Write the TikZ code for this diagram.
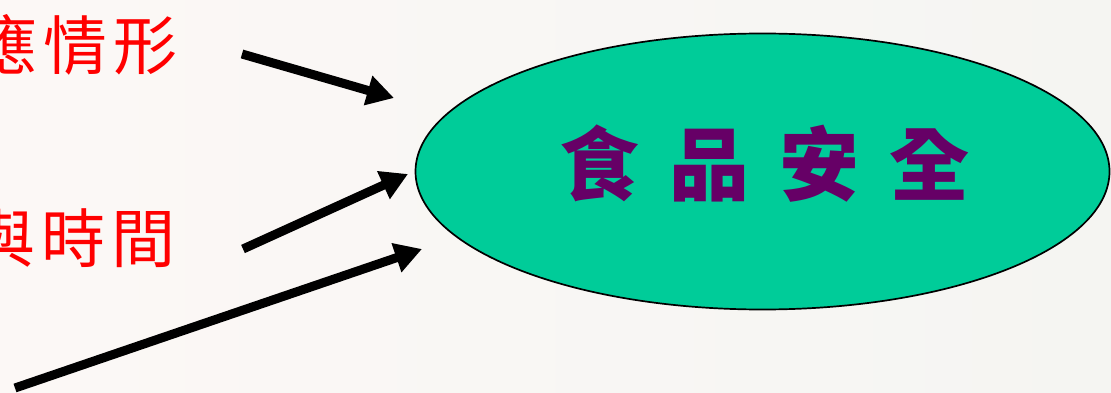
\documentclass[tikz,border=0pt]{standalone}
\usepackage{fontspec}
\newfontfamily\cjk{Noto Sans CJK TC}
\usetikzlibrary{arrows.meta,shapes.geometric}
\definecolor{bgl}{RGB}{252,248,246}
\definecolor{bgr}{RGB}{245,245,242}
\definecolor{oval}{RGB}{0,204,153}
\definecolor{plum}{RGB}{102,0,102}
\tikzset{
  redtxt/.style={text=red, font=\cjk\fontsize{64}{70}\selectfont, inner sep=0pt},
  bigarrow/.style={line width=9pt, -{Triangle[length=27pt,width=29pt]}, black},
}
\begin{document}
\begin{tikzpicture}[x=1pt,y=-1pt]
\useasboundingbox (0,0) rectangle (1111,393);
\shade[left color=bgl, right color=bgr] (0,0) rectangle (1111,393);
\clip (0,0) rectangle (1111,393);
\node[redtxt, anchor=east] (t1) at (178,45) {應\hspace{6pt}情\hspace{6pt}形};
\node[redtxt, anchor=east] (t2) at (176,238) {與\hspace{6pt}時\hspace{6pt}間};
\node[draw=black, line width=1.7pt, fill=oval, ellipse, minimum width=694pt, minimum height=276pt, inner sep=0pt] (food) at (762.5,171.5) {};
\node[text=plum, font=\cjk\bfseries\fontsize{80}{90}\selectfont, inner sep=0pt] (lbl) at (764,164) {食\hspace{30pt}品\hspace{30pt}安\hspace{30pt}全};
\coordinate (s1) at (242,54);
\coordinate (e1) at (394,98);
\coordinate (s2) at (243,249);
\coordinate (e2) at (408,174);
\coordinate (s3) at (15,388);
\coordinate (e3) at (422,249);
\draw[bigarrow] (s1) -- (e1);
\draw[bigarrow] (s2) -- (e2);
\draw[bigarrow] (s3) -- (e3);
\end{tikzpicture}
\end{document}
